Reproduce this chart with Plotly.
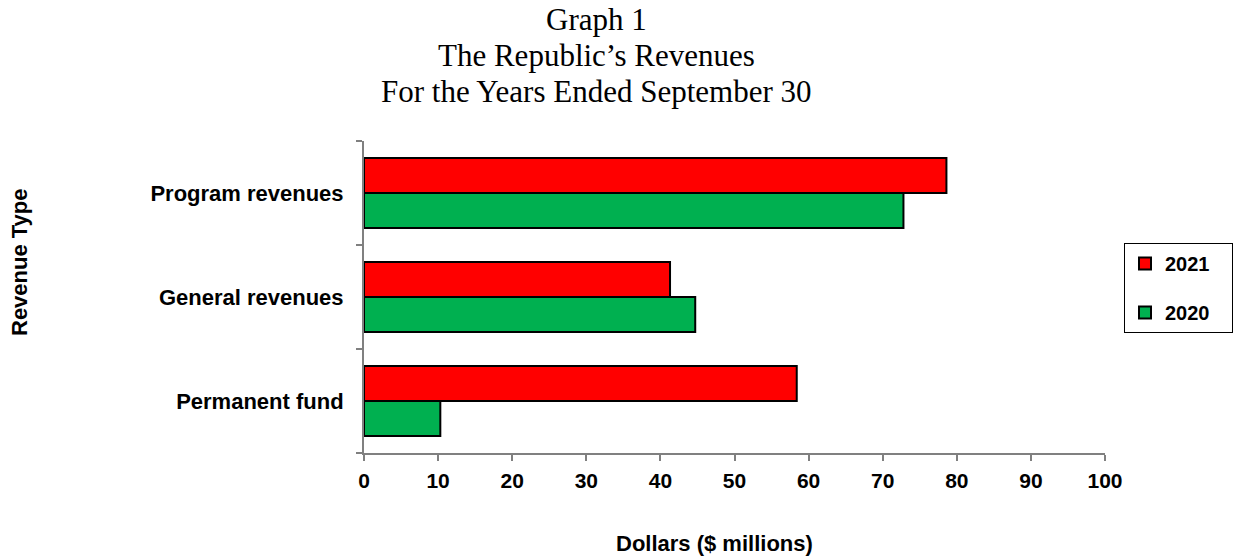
import plotly.graph_objects as go

# Revenue categories, listed bottom to top on the chart
categories = ["Permanent fund", "General revenues", "Program revenues"]
rev_2021 = [58.4, 41.3, 78.6]
rev_2020 = [10.3, 44.7, 72.8]
x_ticks = [0, 10, 20, 30, 40, 50, 60, 70, 80, 90, 100]

title_lines = ["Graph 1", "The Republic\u2019s Revenues", "For the Years Ended September 30"]

W, H = 1235, 558
L, R, T, B = 364, 130, 141, 105
plot_w = W - L - R
plot_h = H - T - B


def px_x(px):
    return (px - L) / plot_w


def px_y(py):
    return (H - B - py) / plot_h


sans = "Liberation Sans, Arial, sans-serif"
serif = "Liberation Serif, Times New Roman, serif"
axis_gray = "#808080"
pad = "\u00a0" * 3

fig = go.Figure()
# 2020 added first so it sits below 2021 within each group
fig.add_trace(go.Bar(
    y=categories, x=rev_2020, name="2020" + pad, orientation="h",
    marker=dict(color="#00B050", line=dict(color="black", width=2)),
    legendgroup="2020", legendrank=2,
))
fig.add_trace(go.Bar(
    y=categories, x=rev_2021, name="2021" + pad, orientation="h",
    marker=dict(color="#FF0000", line=dict(color="black", width=2)),
    legendgroup="2021", legendrank=1,
))

annotations = []
for text, py in zip(title_lines, [19.5, 55.5, 91.5]):
    annotations.append(dict(
        text=text, xref="paper", yref="paper", x=px_x(596), y=px_y(py),
        xanchor="center", yanchor="middle", showarrow=False,
        font=dict(family=serif, size=31, color="black"),
    ))
annotations.append(dict(
    text="Revenue Type", xref="paper", yref="paper",
    x=px_x(19), y=px_y(262), textangle=-90, showarrow=False,
    xanchor="center", yanchor="middle",
    font=dict(family=sans, size=22, color="black", weight="bold"),
))
annotations.append(dict(
    text="Dollars ($ millions)", xref="paper", yref="paper",
    x=px_x(714), y=px_y(543), showarrow=False,
    xanchor="center", yanchor="middle",
    font=dict(family=sans, size=22, color="black", weight="bold"),
))

fig.update_layout(
    width=W, height=H,
    margin=dict(l=L, r=R, t=T, b=B, autoexpand=False),
    paper_bgcolor="white", plot_bgcolor="white",
    barmode="group", bargap=0.327, bargroupgap=0,
    showlegend=True,
    legend=dict(
        x=px_x(1124), y=px_y(243), xanchor="left", yanchor="top",
        traceorder="grouped", tracegroupgap=20,
        bordercolor="black", borderwidth=1, bgcolor="white",
        font=dict(family=sans, size=20, color="black", weight="bold"),
    ),
    annotations=annotations,
    xaxis=dict(
        range=[0, 100], tickvals=x_ticks,
        showgrid=False, zeroline=False,
        showline=True, linecolor=axis_gray, linewidth=2,
        ticks="outside", ticklen=6, tickwidth=1.5, tickcolor=axis_gray,
        ticklabelstandoff=2,
        tickfont=dict(family=sans, size=21, color="black", weight="bold"),
    ),
    yaxis=dict(
        type="category", categoryorder="array", categoryarray=categories,
        tickson="boundaries",
        showgrid=False, zeroline=False,
        showline=True, linecolor=axis_gray, linewidth=2,
        ticks="outside", ticklen=6, tickwidth=1.5, tickcolor=axis_gray,
        ticklabelstandoff=14,
        tickfont=dict(family=sans, size=22, color="black", weight="bold"),
    ),
)

fig.write_html("out.html")
